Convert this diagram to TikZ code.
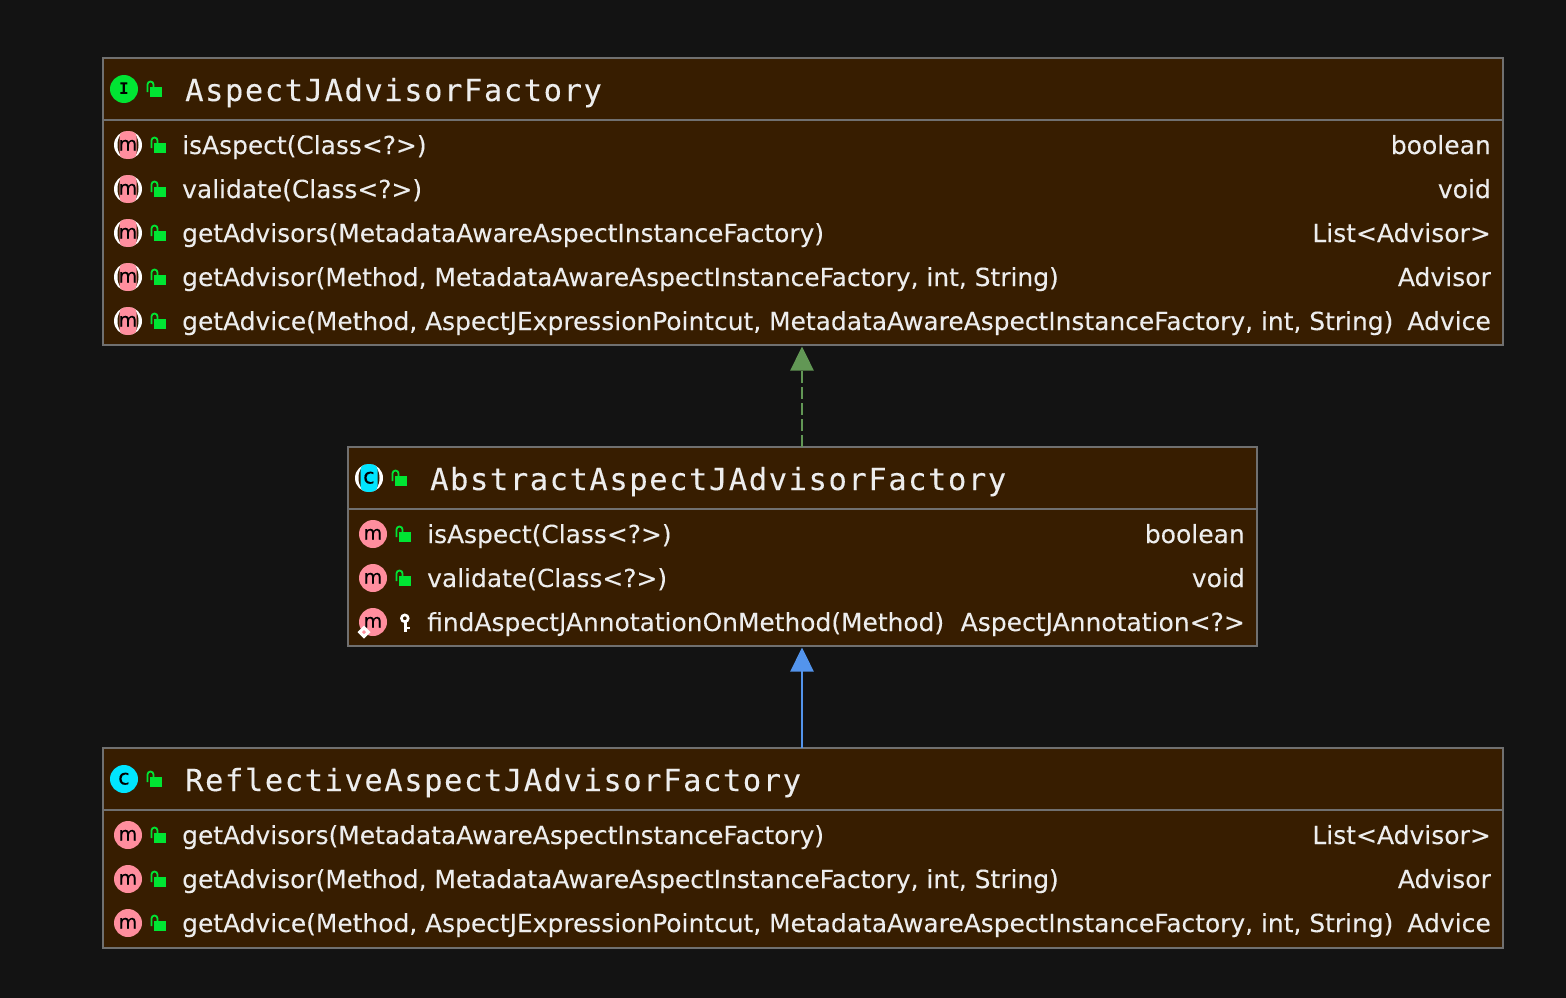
\documentclass[tikz,border=0pt]{standalone}
\usepackage{fontspec}
\setmainfont[FakeBold=0.12]{DejaVu Sans}
\newfontfamily\titlefont[LetterSpace=5.1,FakeBold=0.12]{DejaVu Sans Mono}
\newfontfamily\iconmono{DejaVu Sans Mono}
\usetikzlibrary{arrows.meta,positioning,calc}

\definecolor{pagebg}{HTML}{131313}
\definecolor{boxfill}{HTML}{371D00}
\definecolor{boxline}{HTML}{707070}
\definecolor{textcol}{HTML}{EDEDED}
\definecolor{ifacegreen}{HTML}{00E533}
\definecolor{classcyan}{HTML}{00E5FF}
\definecolor{methodpink}{HTML}{FF8E9E}
\definecolor{realizecol}{HTML}{629755}
\definecolor{extendcol}{HTML}{5394EC}

\tikzset{
	umlbox/.style={draw=boxline, fill=boxfill, line width=2pt, rectangle, inner sep=0pt, outer sep=0pt, anchor=north west},
	boxsplit/.style={draw=boxline, line width=2pt},
	classtitle/.style={anchor=base west, inner sep=0pt, text=textcol, font=\titlefont\fontsize{30.5}{34}\selectfont},
	membertext/.style={anchor=base west, inner sep=0pt, text=textcol, font=\fontsize{24.9}{30}\selectfont},
	returntext/.style={anchor=base east, inner sep=0pt, text=textcol, font=\fontsize{25}{30}\selectfont},
	iconletter/.style={anchor=base, inner sep=0pt, text=black, font=\fontsize{19}{20}\selectfont},
	arrowline/.style={line width=2.4pt, shorten >=1.5pt, -{Triangle[length=24pt,width=23pt]}},
}

% lock, drawn from the lower left corner
\newcommand{\openlock}[2]{
	\fill [ifacegreen] (#1+4,#2-10) rectangle (#1+16,#2);
	\draw [ifacegreen, line width=1.8pt] (#1+1.5,#2-5) -- (#1+1.5,#2-12.5) arc (180:360:3) -- (#1+7.5,#2-10);
}
% round icon; last argument set gives the white sides
\newcommand{\roundicon}[6]{
	\ifnum#6=1
		\fill [white] (#1,#2) circle (14);
		\fill [boxfill] (#1,#2) ellipse (10.5 and 14.5);
		\begin{scope}
			\clip (#1,#2) circle (14);
			\fill [#4, rounded corners=6pt] (#1-8.5,#2-14) rectangle (#1+8.5,#2+14);
		\end{scope}
	\else
		\fill [#4] (#1,#2) circle (14);
	\fi
	\node [iconletter] (#3) at (#1,#2+5.5) {#5};
}
\newcommand{\memberrow}[5]{
	\roundicon{#2+14}{#3}{#1icon}{methodpink}{m}{#5}
	\openlock{#2+36}{#3+8}
	\node [membertext] (#1text) at (#2+68,#3+9) {#4};
}

\begin{document}
\begin{tikzpicture}[x=1pt,y=-1pt]
	\useasboundingbox [fill=pagebg] (0,0) rectangle (1566,998);

	% % % boxes
	\node [umlbox, minimum width=1399.7pt, minimum height=287.3pt] (aspectfactory) at (103,57.7) {};
	\node [umlbox, minimum width=908.5pt, minimum height=199pt] (abstractfactory) at (348,447) {};
	\node [umlbox, minimum width=1399.7pt, minimum height=199.5pt] (reflectivefactory) at (103,748) {};

	\draw [boxsplit] (103,120) -- (1502.7,120);
	\draw [boxsplit] (348,509) -- (1256.5,509);
	\draw [boxsplit] (103,810) -- (1502.7,810);

	% % % first box
	\roundicon{124}{89}{aspecticon}{ifacegreen}{\iconmono\bfseries\fontsize{16}{18}\selectfont I}{0}
	\openlock{146}{97}
	\node [classtitle] (aspecttitle) at (185,101) {AspectJAdvisorFactory};

	\memberrow{aspectisaspect}{114}{145}{isAspect(Class<?>)}{1}
	\memberrow{aspectvalidate}{114}{189}{validate(Class<?>)}{1}
	\memberrow{aspectadvisors}{114}{233}{getAdvisors(MetadataAwareAspectInstanceFactory)}{1}
	\memberrow{aspectadvisor}{114}{277}{getAdvisor(Method, MetadataAwareAspectInstanceFactory, int, String)}{1}
	\memberrow{aspectadvice}{114}{321}{getAdvice(Method, AspectJExpressionPointcut, MetadataAwareAspectInstanceFactory, int, String)}{1}

	\node [returntext] (aspectret1) at (1491,154) {boolean};
	\node [returntext] (aspectret2) at (1491,198) {void};
	\node [returntext] (aspectret3) at (1491,242) {List<Advisor>};
	\node [returntext] (aspectret4) at (1491,286) {Advisor};
	\node [returntext] (aspectret5) at (1491,330) {Advice};

	% % % second box
	\roundicon{369}{478}{abstracticon}{classcyan}{\fontsize{21}{22}\selectfont c}{1}
	\openlock{391}{486}
	\node [classtitle] (abstracttitle) at (430,490) {AbstractAspectJAdvisorFactory};

	\memberrow{abstractisaspect}{359}{534}{isAspect(Class<?>)}{0}
	\memberrow{abstractvalidate}{359}{578}{validate(Class<?>)}{0}

	\roundicon{373}{622}{abstractfindicon}{methodpink}{m}{0}
	\node [membertext] (abstractfindtext) at (427,631) {findAspectJAnnotationOnMethod(Method)};
	% package-private key and its small diamond
	\draw [white, line width=2.6pt] (404.8,618.3) circle (3.4);
	\draw [white, line width=2.6pt] (405.3,622) -- (405.3,632) (405.3,628) -- (410,628);
	\fill [white] (364,625.5) -- (370.5,632) -- (364,638.5) -- (357.5,632) -- cycle;
	\fill [methodpink] (364,630) -- (366,632) -- (364,634) -- (362,632) -- cycle;

	\node [returntext] (abstractret1) at (1245,543) {boolean};
	\node [returntext] (abstractret2) at (1245,587) {void};
	\node [returntext] (abstractret3) at (1245,631) {AspectJAnnotation<?>};

	% % % third box
	\roundicon{124}{779}{reflectiveicon}{classcyan}{\fontsize{21}{22}\selectfont c}{0}
	\openlock{146}{787}
	\node [classtitle] (reflectivetitle) at (185,791) {ReflectiveAspectJAdvisorFactory};

	\memberrow{reflectiveadvisors}{114}{835}{getAdvisors(MetadataAwareAspectInstanceFactory)}{0}
	\memberrow{reflectiveadvisor}{114}{879}{getAdvisor(Method, MetadataAwareAspectInstanceFactory, int, String)}{0}
	\memberrow{reflectiveadvice}{114}{923}{getAdvice(Method, AspectJExpressionPointcut, MetadataAwareAspectInstanceFactory, int, String)}{0}

	\node [returntext] (reflectiveret1) at (1491,844) {List<Advisor>};
	\node [returntext] (reflectiveret2) at (1491,888) {Advisor};
	\node [returntext] (reflectiveret3) at (1491,932) {Advice};

	% % % connectors
	\draw [arrowline, realizecol, dash pattern=on 12pt off 4pt] (abstractfactory.north -| 802,0) -- (aspectfactory.south -| 802,0);
	\draw [arrowline, extendcol] (reflectivefactory.north -| 802,0) -- (abstractfactory.south -| 802,0);
\end{tikzpicture}
\end{document}
